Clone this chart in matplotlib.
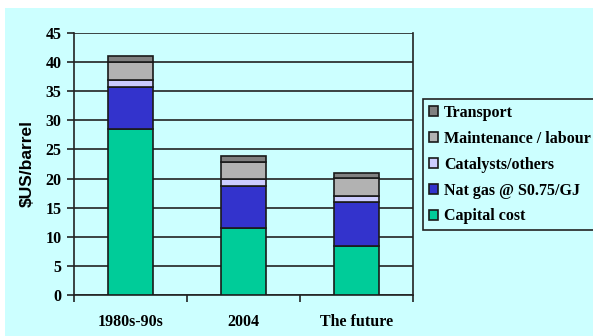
import numpy as np
import matplotlib
matplotlib.use("Agg")
import matplotlib.pyplot as plt
from matplotlib.patches import Rectangle

categories = ["1980s-90s", "2004", "The future"]
capital = [28.5, 11.5, 8.5]
nat_gas = [7.3, 7.3, 7.4]
catalysts = [1.1, 1.1, 1.1]
maintenance = [3.1, 3.0, 3.1]
transport = [1.0, 1.0, 0.9]

series = [
    ("Capital cost", capital, "#00cc99"),
    ("Nat gas @ $0.75/GJ", nat_gas, "#3333cc"),
    ("Catalysts/others", catalysts, "#ccccff"),
    ("Maintenance / labour", maintenance, "#b2b2b2"),
    ("Transport", transport, "#808080"),
]

bg = "#ccffff"
serif = "Liberation Serif"

fig = plt.figure(figsize=(5.93, 3.36), dpi=100, facecolor="white")
# light cyan panel (thin white margin at top and left like the slide)
fig.patches.append(Rectangle((5 / 593, 0), 1, 1 - 8 / 336, transform=fig.transFigure,
                             facecolor=bg, edgecolor="none", zorder=-10))

ax = fig.add_axes([74 / 593, 41 / 336, 339 / 593, 262 / 336])
ax.set_facecolor(bg)

x = np.arange(len(categories))
bottom = np.zeros(len(categories))
handles = []
for name, vals, color in series:
    b = ax.bar(x, vals, width=0.4, bottom=bottom, color=color, edgecolor="#1a1a1a",
               linewidth=1.2, label=name, zorder=3)
    handles.append(b)
    bottom += np.array(vals)

ax.set_xlim(-0.5, 2.5)
ax.set_ylim(0, 45)
ax.set_yticks(np.arange(0, 46, 5))
ax.yaxis.grid(True, color="#222222", linewidth=1.2, zorder=0)
ax.set_axisbelow(True)

ax.set_xticks(x)
ax.set_xticklabels(categories)
ax.set_xticks([-0.5, 0.5, 1.5, 2.5], minor=True)
ax.tick_params(axis="x", which="major", length=0, pad=14)
ax.tick_params(axis="x", which="minor", length=5, width=1.2, direction="out", color="#222222")
ax.tick_params(axis="y", length=5, width=1.2, direction="out", pad=4, color="#222222")

for lab in ax.get_xticklabels() + ax.get_yticklabels():
    lab.set_fontfamily(serif)
    lab.set_fontweight("bold")
    lab.set_fontsize(11.5)

for side in ["left", "bottom", "right"]:
    ax.spines[side].set_color("#222222")
    ax.spines[side].set_linewidth(1.2)
ax.spines["top"].set_visible(False)

fig.text(27 / 593, 1 - 163 / 336, "$US/barrel", rotation=90, ha="center", va="center",
         fontfamily="Liberation Sans", fontweight="bold", fontsize=12.5)

leg = fig.legend(handles[::-1], [s[0].replace("$", "S") for s in series[::-1]],
                 loc="lower left", bbox_to_anchor=(423 / 593, (336 - 230) / 336),
                 prop={"family": serif, "weight": "bold", "size": 11.5},
                 frameon=True, fancybox=False, facecolor=bg, edgecolor="#222222",
                 handlelength=0.6, handleheight=0.6, handletextpad=0.35,
                 labelspacing=0.62, borderpad=0.35, borderaxespad=0)
leg.get_frame().set_linewidth(1.2)
leg.get_frame().set_alpha(None)

fig.savefig("out.png", dpi=100, facecolor=fig.get_facecolor())
